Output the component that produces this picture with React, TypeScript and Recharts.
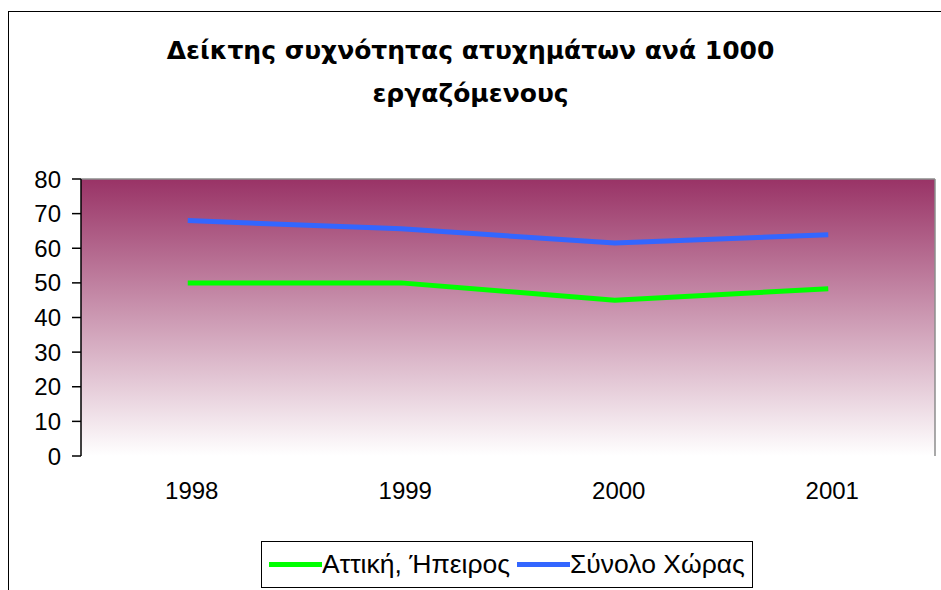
import React from "react";
import { LineChart, Line, XAxis, YAxis, CartesianGrid, ReferenceLine } from "recharts";

const years = ["1998", "1999", "2000", "2001"];
const attiki = [50, 50, 45, 48.3];
const synolo = [68, 65.6, 61.5, 63.9];
const yTicks = [0, 10, 20, 30, 40, 50, 60, 70, 80];
const bandTicks = [0, 1, 2, 3, 4];

const series = [
    { key: "attiki", name: "Αττική, Ήπειρος", color: "#00ff00" },
    { key: "synolo", name: "Σύνολο Χώρας", color: "#3366ff" },
];

const data = years.map((y, i) => ({ year: y, idx: i + 0.5, attiki: attiki[i], synolo: synolo[i] }));

const font = "'Liberation Sans', Arial, sans-serif";

const App = () => (
    <div style={{ position: "absolute", left: 0, top: 0, width: 941, height: 590, background: "#fff", overflow: "hidden" }}>
        <div
            style={{
                position: "absolute",
                left: 8,
                top: 11,
                width: 960,
                height: 620,
                border: "1.5px solid #000",
            }}
        />
        <div
            style={{
                position: "absolute",
                left: 0,
                top: 29,
                width: 941,
                textAlign: "center",
                fontFamily: "'DejaVu Sans', Verdana, sans-serif",
                fontWeight: "bold",
                fontSize: 25,
                lineHeight: "43px",
                color: "#000",
            }}
        >
            Δείκτης συχνότητας ατυχημάτων ανά 1000
            <br />
            εργαζόμενους
        </div>
        <div style={{ position: "absolute", left: 0, top: 0 }}>
            <LineChart width={941} height={590} data={data} margin={{ top: 179, right: 6, bottom: 74, left: 0 }}>
                <defs>
                    <linearGradient id="plotBg" x1="0" x2="0" y1="0" y2="1">
                        <stop offset="0%" stopColor="#993366" />
                        <stop offset="100%" stopColor="#ffffff" />
                    </linearGradient>
                </defs>
                <CartesianGrid horizontal={false} vertical={false} fill="url(#plotBg)" fillOpacity={1} />
                <XAxis
                    xAxisId="band"
                    type="number"
                    dataKey="idx"
                    domain={[0, 4]}
                    ticks={bandTicks}
                    tickFormatter={() => ""}
                    height={0}
                    tickSize={9}
                    stroke="#000"
                    axisLine={{ stroke: "#000", strokeWidth: 1.5 }}
                    tickLine={{ stroke: "#000", strokeWidth: 1.5 }}
                />
                <XAxis
                    xAxisId="cat"
                    dataKey="year"
                    padding={{ left: 106.75, right: 106.75 }}
                    axisLine={false}
                    tickLine={false}
                    tickMargin={20}
                    height={60}
                    tick={{ fill: "#000", fontSize: 24, fontFamily: font, dx: 4 }}
                />
                <YAxis
                    domain={[0, 80]}
                    ticks={yTicks}
                    width={81}
                    tickSize={9}
                    tickMargin={11}
                    interval={0}
                    axisLine={{ stroke: "#000", strokeWidth: 1.5 }}
                    tickLine={{ stroke: "#000", strokeWidth: 1.5 }}
                    tick={{ fill: "#000", fontSize: 24, fontFamily: font }}
                />
                <ReferenceLine y={80} xAxisId="band" stroke="#8c8c8c" strokeWidth={1.5} />
                <ReferenceLine x={4} xAxisId="band" stroke="#8c8c8c" strokeWidth={1.5} />
                {series.map((s) => (
                    <Line
                        key={s.key}
                        xAxisId="cat"
                        dataKey={s.key}
                        name={s.name}
                        stroke={s.color}
                        strokeWidth={5}
                        dot={false}
                        isAnimationActive={false}
                    />
                ))}
            </LineChart>
        </div>
        <div
            style={{
                position: "absolute",
                left: 261,
                top: 541,
                width: 490,
                height: 45,
                display: "flex",
                alignItems: "center",
                boxSizing: "content-box",
                border: "1px solid #000",
                background: "#fff",
                fontFamily: font,
                fontSize: 26.5,
                color: "#000",
                whiteSpace: "nowrap",
            }}
        >
            {series.map((s) => (
                <div key={s.key} style={{ display: "flex", alignItems: "center", marginLeft: 7 }}>
                    <span style={{ display: "inline-block", width: 53, height: 5, background: s.color }} />
                    <span>{s.name}</span>
                </div>
            ))}
        </div>
    </div>
);

export default App;
